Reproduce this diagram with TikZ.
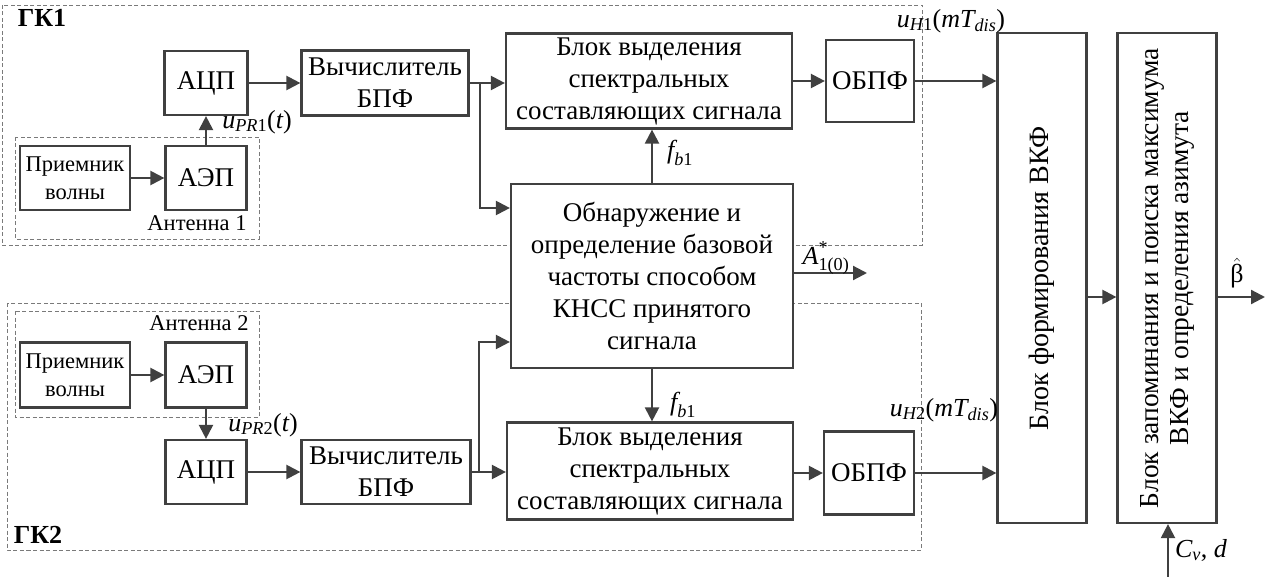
\documentclass[tikz,border=0pt]{standalone}
\usepackage{fontspec}
\setmainfont{Liberation Serif}
\usepackage{amsmath}
\usetikzlibrary{arrows.meta}

\definecolor{linegray}{HTML}{404040}
\definecolor{dashgray}{HTML}{7A7A7A}
\newcommand{\vit}[1]{\text{\itshape #1}}

\tikzset{
  blok/.style={draw=linegray, line width=2.2pt, fill=white, inner sep=0pt, align=center,
    font=\fontsize{27}{32}\selectfont},
  small/.style={font=\fontsize{22.5}{28}\selectfont},
  zone/.style={draw=dashgray, line width=0.9pt, dash pattern=on 4pt off 2.5pt},
  arr/.style={draw=linegray, line width=2.2pt, -{Triangle[length=14pt,width=14pt]}},
  lbl/.style={font=\fontsize{26}{31}\selectfont, inner sep=0pt},
}

\begin{document}
\begin{tikzpicture}[x=1pt, y=-1pt]
\useasboundingbox (0,0) rectangle (1279,577);

% dashed zones of the two channels and antennas
\draw[zone] (2,5) rectangle (922,245);
\draw[zone] (7,303) rectangle (921,550);
\draw[zone] (15,137) rectangle (259,239);
\draw[zone] (15,311) rectangle (259,417);

\node[lbl] (gk1) at (42,18) {\bfseries ГК1};
\node[lbl] (gk2) at (38,535) {\bfseries ГК2};
\node[lbl, small] (ant1) at (197,223) {Антенна 1};
\node[lbl, small] (ant2) at (199,323) {Антенна 2};

% channel 1
\node[blok, small, minimum width=110, minimum height=64] (rec1) at (75,178) {Приемник\\волны};
\node[blok, minimum width=81, minimum height=64] (aep1) at (206,178) {АЭП};
\node[blok, minimum width=83, minimum height=64] (adc1) at (206,83) {АЦП};
\node[blok, minimum width=167, minimum height=65] (fft1) at (385,83) {Вычислитель\\БПФ};
\node[blok, minimum width=286, minimum height=95] (sel1) at (649,81) {Блок выделения\\спектральных\\составляющих сигнала};
\node[blok, minimum width=88, minimum height=82] (obpf1) at (870,81) {ОБПФ};

% detector, shared by both channels
\node[blok, minimum width=282, minimum height=184] (det) at (652,276)
  {Обнаружение и\\определение базовой\\частоты способом\\КНСС принятого\\сигнала};

% channel 2
\node[blok, small, minimum width=110, minimum height=65] (rec2) at (75,375) {Приемник\\волны};
\node[blok, minimum width=81, minimum height=65] (aep2) at (206,375) {АЭП};
\node[blok, minimum width=81, minimum height=64] (adc2) at (206,472) {АЦП};
\node[blok, minimum width=169, minimum height=64] (fft2) at (386,472) {Вычислитель\\БПФ};
\node[blok, minimum width=286, minimum height=97] (sel2) at (650,471) {Блок выделения\\спектральных\\составляющих сигнала};
\node[blok, minimum width=90, minimum height=83] (obpf2) at (869,473) {ОБПФ};

% output blocks
\node[blok, minimum width=89, minimum height=490] (vkf) at (1042,278)
  {\rotatebox{90}{\fontsize{28}{30}\selectfont Блок формирования ВКФ}};
\node[blok, minimum width=99, minimum height=490] (zap) at (1167,278)
  {\rotatebox{90}{\fontsize{27.5}{30}\selectfont\begin{tabular}{@{}c@{}}Блок запоминания и поиска максимума\\ВКФ и определения азимута\end{tabular}}};

\coordinate (br1) at (480,83);
\coordinate (br2) at (479,472);
\coordinate (aout) at (867,273);
\coordinate (bout) at (1265,297);
\coordinate (cin) at (1168,577);

% connectors
\draw[arr] (rec1) -- (aep1);
\draw[arr] (aep1) -- (adc1);
\draw[arr] (adc1) -- (fft1);
\draw[arr] (fft1.east) -- (sel1.west |- fft1.east);
\draw[arr] (br1) |- ([yshift=68pt]det.west);
\draw[arr] (det.north) -- (det.north |- sel1.south);
\draw[arr] (sel1) -- (obpf1);
\draw[arr] (obpf1.east) -- (obpf1.east -| vkf.west);
\draw[arr] (det.east |- aout) -- (aout);

\draw[arr] (rec2) -- (aep2);
\draw[arr] (aep2) -- (adc2);
\draw[arr] (adc2) -- (fft2);
\draw[arr] (fft2.east) -- (sel2.west |- fft2.east);
\draw[arr] (br2) |- ([yshift=-66pt]det.west);
\draw[arr] (det.south) -- (det.south |- sel2.north);
\draw[arr] (sel2.east |- obpf2) -- (obpf2);
\draw[arr] (obpf2.east) -- (obpf2.east -| vkf.west);

\draw[arr] ([yshift=-19pt]vkf.east) -- ([yshift=-19pt]vkf.east -| zap.west);
\draw[arr] (zap.east |- bout) -- (bout);
\draw[arr] (cin) -- (cin |- zap.south);

% signal labels
\node[lbl] (upr1) at (257,122) {$\vit{u}_{\vit{PR}\text{1}}\text{(}\vit{t}\text{)}$};
\node[lbl] (upr2) at (263,425) {$\vit{u}_{\vit{PR}\text{2}}\text{(}\vit{t}\text{)}$};
\node[lbl] (fb1) at (680,153) {$\vit{f}_{\vit{b}\text{1}}$};
\node[lbl] (fb2) at (683,405) {$\vit{f}_{\vit{b}\text{1}}$};
\node[lbl] (uh1) at (951,21) {$\vit{u}_{\vit{H}\text{1}}\text{(}\vit{mT}_{\vit{dis}}\text{)}$};
\node[lbl] (uh2) at (944,410) {$\vit{u}_{\vit{H}\text{2}}\text{(}\vit{mT}_{\vit{dis}}\text{)}$};
\node[lbl] (astar) at (826,258) {$\vit{A}^{\text{*}}_{\text{1(0)}}$};
\node[lbl] (beta) at (1237,273) {$\hat{\text{β}}$};
\node[lbl] (cvd) at (1201,550) {$\vit{C}_{\vit{v}}\text{, }\vit{d}$};
\end{tikzpicture}
\end{document}
